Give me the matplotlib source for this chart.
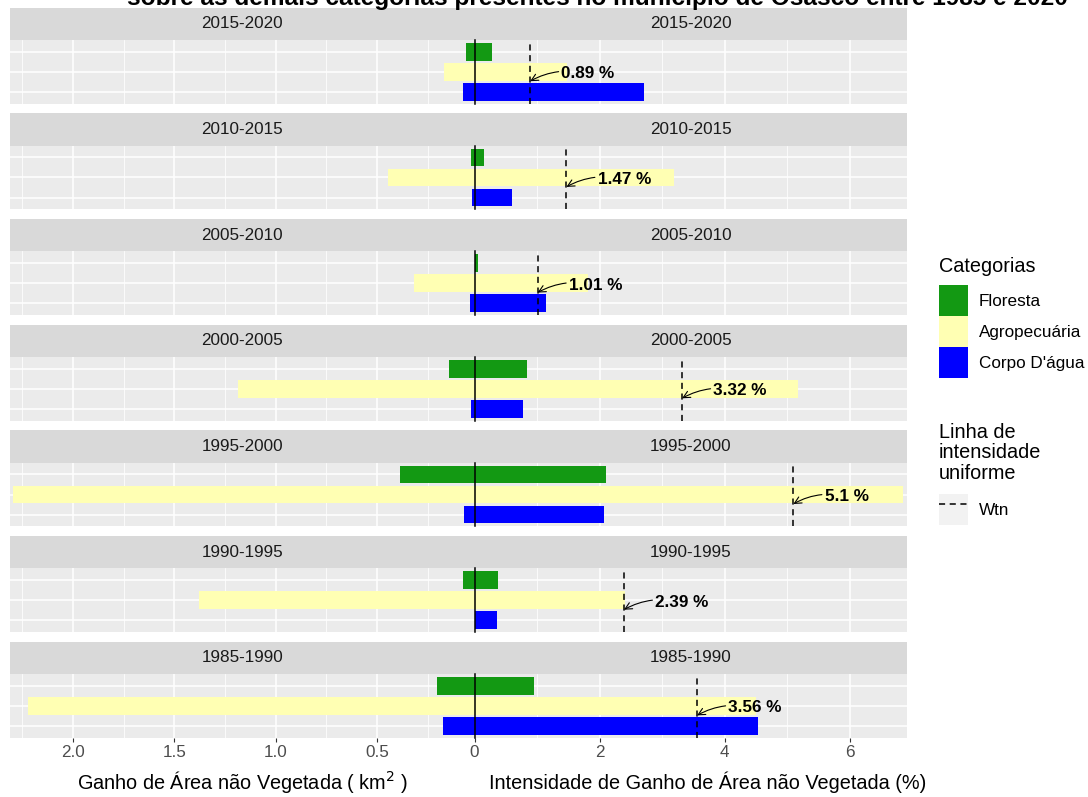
import matplotlib.pyplot as plt
from matplotlib.patches import Patch
from matplotlib.lines import Line2D
from matplotlib.legend_handler import HandlerTuple

plt.rcParams['font.family'] = ['Liberation Sans', 'DejaVu Sans']

periodos = ["2015-2020", "2010-2015", "2005-2010", "2000-2005",
            "1995-2000", "1990-1995", "1985-1990"]
categorias = ["Floresta", "Agropecuária", "Corpo D'água"]
cores = ["#139913", "#FFFFB3", "#0000FF"]

# ganho de área não vegetada (km2) sobre cada categoria
ganho_floresta = [0.061, 0.035, 0.012, 0.143, 0.386, 0.074, 0.202]
ganho_agro = [0.169, 0.447, 0.317, 1.188, 2.297, 1.378, 2.220]
ganho_agua = [0.075, 0.030, 0.041, 0.036, 0.069, 0.010, 0.176]

# intensidade do ganho (%)
int_floresta = [0.275, 0.147, 0.060, 0.845, 2.11, 0.370, 0.957]
int_agro = [1.485, 3.19, 1.82, 5.18, 6.86, 2.40, 4.50]
int_agua = [2.71, 0.605, 1.149, 0.780, 2.07, 0.354, 4.54]

# intensidade uniforme do intervalo
wtn = [0.89, 1.47, 1.01, 3.32, 5.1, 2.39, 3.56]

ganho = [ganho_floresta, ganho_agro, ganho_agua]
intensidade = [int_floresta, int_agro, int_agua]

W, H = 1088, 797
fig = plt.figure(figsize=(W / 100, H / 100), dpi=100)


def fx(px):
    return px / W


def fy(py):
    return 1 - py / H


x0, xm, x1 = 10, 474.5, 907
strip_h, panel_h, passo = 32.3, 63.7, 105.7
txt_cor = "#1A1A1A"
small = 12.3
base = 14.3


def estilo(ax):
    ax.set_facecolor("#EBEBEB")
    for sp in ax.spines.values():
        sp.set_visible(False)
    ax.set_axisbelow(True)
    ax.set_yticks([0, 1, 2])
    ax.set_ylim(2.586, -0.586)
    ax.grid(which="major", color="white", lw=1.1)
    ax.grid(which="minor", color="white", lw=0.55)
    ax.tick_params(axis="y", length=0, labelleft=False)
    ax.tick_params(axis="x", which="minor", length=0)


for i, periodo in enumerate(periodos):
    top = 7.6 + passo * i
    sb = top + strip_h
    pb = sb + panel_h

    # faixa com o intervalo, repetida sobre os dois painéis
    ax_s = fig.add_axes([fx(x0), fy(sb), fx(x1 - x0), strip_h / H])
    ax_s.set_facecolor("#D9D9D9")
    ax_s.set_xticks([])
    ax_s.set_yticks([])
    for sp in ax_s.spines.values():
        sp.set_visible(False)
    for centro in ((x0 + xm) / 2, (xm + x1) / 2):
        ax_s.text((centro - x0) / (x1 - x0), 0.5, periodo, ha="center",
                  va="center", size=small, color=txt_cor,
                  transform=ax_s.transAxes)

    axl = fig.add_axes([fx(x0), fy(pb), fx(xm - x0), panel_h / H])
    axr = fig.add_axes([fx(xm), fy(pb), fx(x1 - xm), panel_h / H])
    estilo(axl)
    estilo(axr)

    for k in range(3):
        axl.barh(k, ganho[k][i], height=0.88, color=cores[k], zorder=2)
        axr.barh(k, intensidade[k][i], height=0.88, color=cores[k], zorder=2)

    axl.set_xticks([0.5, 1.0, 1.5, 2.0])
    axl.set_xticklabels(["0.5", "1.0", "1.5", "2.0"])
    axl.set_xticks([0.25, 0.75, 1.25, 1.75, 2.25], minor=True)
    axl.set_xlim(2.311, 0.0187)

    axr.set_xticks([0, 2, 4, 6])
    axr.set_xticks([1, 3, 5], minor=True)
    axr.set_xlim(0, 6.917)

    axr.axvline(0, color="black", lw=1.1, zorder=3, clip_on=False)
    axr.axvline(wtn[i], color="black", lw=1.1, ls=(0, (4, 3)), zorder=3)
    axr.annotate(f"{wtn[i]} %", xy=(wtn[i], 1.47), xytext=(wtn[i] + 0.5, 1.1),
                 ha="left", va="center", size=small, fontweight="bold",
                 annotation_clip=False, zorder=4,
                 arrowprops=dict(arrowstyle="->", lw=0.8, color="black",
                                 shrinkA=0, shrinkB=0,
                                 connectionstyle="arc3,rad=0.2"))

    ultimo = i == len(periodos) - 1
    for ax in (axl, axr):
        if ultimo:
            ax.tick_params(axis="x", which="major", length=2.75, width=0.8,
                           color="#333333", pad=2.2, labelsize=small,
                           labelcolor="#4D4D4D")
        else:
            ax.tick_params(axis="x", which="major", length=0, labelbottom=False)

fig.text(fx(242), fy(789), "Ganho de Área não Vegetada ( km$^2$ )",
         ha="center", va="baseline", size=base, color="black")
fig.text(fx(708), fy(789), "Intensidade de Ganho de Área não Vegetada (%)",
         ha="center", va="baseline", size=base, color="black")

fig.text(fx(597), fy(5), "sobre as demais categorias presentes no município de Osasco entre 1985 e 2020",
         ha="center", va="baseline", size=17.6, fontweight="bold", zorder=0)

fig.text(fx(939), fy(267), "Categorias", ha="left", va="center", size=base)
fig.legend(handles=[Patch(facecolor=c, edgecolor="none", label=n)
                    for c, n in zip(cores, categorias)],
           loc="upper left", bbox_to_anchor=(fx(939), fy(285)),
           frameon=False, borderpad=0, borderaxespad=0,
           handlelength=1.7, handleheight=2.4, labelspacing=0.02,
           handletextpad=0.64, fontsize=small)

fig.text(fx(939), fy(423), "Linha de\nintensidade\nuniforme", ha="left",
         va="top", size=base, linespacing=1.1)
chave = (Patch(facecolor="#F2F2F2", edgecolor="none"),
         Line2D([], [], color="black", lw=1.1, ls=(0, (4, 3))))
fig.legend(handles=[chave], labels=["Wtn"],
           handler_map={tuple: HandlerTuple(ndivide=1)},
           loc="upper left", bbox_to_anchor=(fx(939), fy(494)),
           frameon=False, borderpad=0, borderaxespad=0,
           handlelength=1.7, handleheight=2.4,
           handletextpad=0.64, fontsize=small)

fig.savefig("out.png", dpi=100)
